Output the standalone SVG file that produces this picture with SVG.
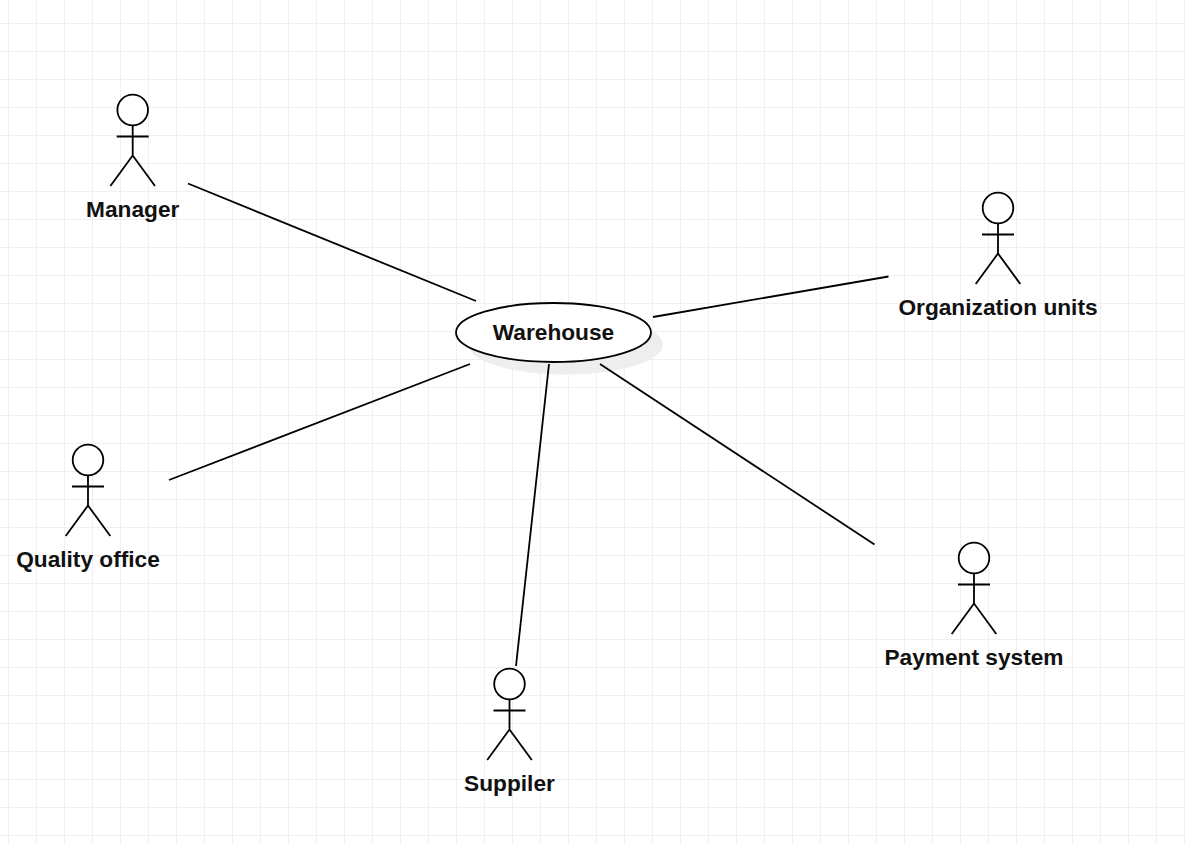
<svg xmlns="http://www.w3.org/2000/svg" width="1185" height="845" viewBox="0 0 1185 845">
<defs>
<style>
.bg{fill:#ffffff}
.line{stroke:#000000;stroke-width:1.8;fill:none}
.shape{stroke:#000000;stroke-width:1.8;fill:#ffffff}
.label{font-family:"Liberation Sans",Arial,sans-serif;font-weight:bold;font-size:22.7px;fill:#111111;text-anchor:middle}
</style>
<pattern id="grid" x="8" y="23" width="28" height="28" patternUnits="userSpaceOnUse">
<path d="M0.5 0V28M0 0.5H28" stroke="#f0f0f0" stroke-width="1" fill="none"/>
</pattern>
<g id="actor">
<circle class="shape" cx="0" cy="15.5" r="15.3"/>
<path class="line" d="M0 31V61M-16 42H16M-22.3 91.5L0 61L22.3 91.5"/>
</g>
</defs>
<rect class="bg" width="1185" height="845"/>
<rect width="1185" height="845" fill="url(#grid)"/>
<g id="warehouse">
<ellipse cx="565.500" cy="344.500" rx="97.500" ry="30" fill="#eeeeee"/>
<ellipse class="shape" cx="553.500" cy="332.500" rx="97.500" ry="29.500"/>
<text class="label" x="553.500" y="339.600">Warehouse</text>
</g>
<g id="manager">
<use href="#actor" x="132.700" y="94.500"/>
<text class="label" x="132.700" y="216.600">Manager</text>
</g>
<g id="organization-units">
<use href="#actor" x="998" y="192.500"/>
<text class="label" x="998" y="314.600">Organization units</text>
</g>
<g id="quality-office">
<use href="#actor" x="88" y="444.500"/>
<text class="label" x="88" y="566.600">Quality office</text>
</g>
<g id="payment-system">
<use href="#actor" x="974" y="542.500"/>
<text class="label" x="974" y="664.600">Payment system</text>
</g>
<g id="suppiler">
<use href="#actor" x="509.500" y="668.500"/>
<text class="label" x="509.500" y="790.600">Suppiler</text>
</g>
<g id="connectors">
<path class="line" d="M188 183.500L476 301"/>
<path class="line" d="M653 317L888.500 276.500"/>
<path class="line" d="M470 364L169 480"/>
<path class="line" d="M549 364L516 666"/>
<path class="line" d="M600 364L874.500 544.500"/>
</g>
</svg>
